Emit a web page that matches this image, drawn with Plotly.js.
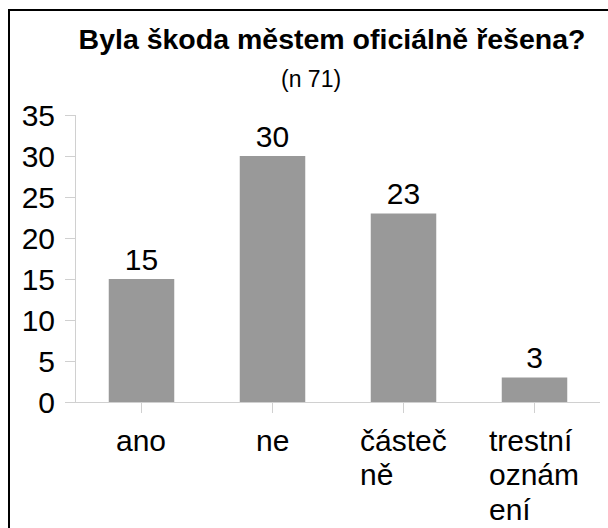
<!DOCTYPE html>
<html>
<head>
<meta charset="utf-8">
<script src="https://cdn.plot.ly/plotly-3.0.1.min.js"></script>
<style>
  html, body { margin: 0; padding: 0; background: #fff; overflow: hidden; }
  #wrap { position: relative; width: 608px; height: 528px; }
  #chart { width: 608px; height: 528px; }
  #frame { position: absolute; left: 8px; top: 9px; width: 700px; height: 700px;
           border-left: 2px solid #000; border-top: 2px solid #000; pointer-events: none; }
</style>
</head>
<body>
<div id="wrap">
  <div id="chart"></div>
  <div id="frame"></div>
</div>
<script>
const titleText = "Byla škoda městem oficiálně řešena?";
const subtitleText = "(n 71)";
const categories = ["ano", "ne", "částečně", "trestní oznámení"];
const tickLabels = ["ano", "ne", "částeč<br>ně", "trestní<br>oznám<br>ení"];
const values = [15, 30, 23, 3];
const yTicks = [0, 5, 10, 15, 20, 25, 30, 35];

const FONT = "Liberation Sans, Arial, sans-serif";
const LABEL_SIZE = 30;
const LINE_STEP = 34.5;

const trace = {
  type: "bar",
  x: categories,
  y: values,
  text: values.map(String),
  textposition: "outside",
  cliponaxis: false,
  textfont: { family: FONT, size: 30, color: "#000" },
  marker: { color: "#999999" },
  hoverinfo: "none"
};

// measure text widths to left-align lines inside a centered block
const ctx = document.createElement("canvas").getContext("2d");
ctx.font = LABEL_SIZE + "px 'Liberation Sans', Arial, sans-serif";

const annotations = [];
categories.forEach((c, i) => {
  const lines = tickLabels[i].split("<br>");
  const blockW = Math.max(...lines.map(l => ctx.measureText(l).width));
  lines.forEach((line, j) => {
    annotations.push({
      x: c, xref: "x", y: 0, yref: "paper",
      yanchor: "middle", xanchor: "left",
      xshift: -blockW / 2 - 2, yshift: -38 - j * LINE_STEP,
      text: line, align: "left", showarrow: false,
      font: { family: FONT, size: LABEL_SIZE, color: "#000" }
    });
  });
});
annotations.push({
  x: (311 - 76) / 524, xref: "paper", y: 1, yref: "paper", xanchor: "center", yanchor: "middle",
  yshift: 36, text: subtitleText, showarrow: false,
  font: { family: FONT, size: 23, color: "#000" }
});

const layout = {
  width: 608, height: 528,
  margin: { l: 76, r: 8, t: 115, b: 126 },
  paper_bgcolor: "#fff", plot_bgcolor: "#fff",
  showlegend: false,
  bargap: 0.5,
  title: {
    text: "<b>" + titleText + "</b>",
    x: 332 / 608, xanchor: "center", xref: "container",
    y: 1 - 39 / 528, yanchor: "middle", yref: "container",
    font: { family: FONT, size: 28.5, color: "#000" }
  },
  xaxis: {
    type: "category",
    showticklabels: false,
    ticks: "outside", ticklen: 10, tickcolor: "#d0d0d0", tickwidth: 1,
    showline: true, linecolor: "#d0d0d0", linewidth: 1,
    showgrid: false, zeroline: false, fixedrange: true
  },
  yaxis: {
    range: [0, 35],
    tickvals: yTicks,
    ticktext: yTicks.map(String),
    ticks: "outside", ticklen: 10, tickcolor: "#d0d0d0", tickwidth: 1,
    showline: true, linecolor: "#d0d0d0", linewidth: 1,
    showgrid: false, zeroline: false, fixedrange: true,
    tickfont: { family: FONT, size: 30, color: "#000" },
    ticklabelstandoff: 4
  },
  annotations: annotations,
  font: { family: FONT, color: "#000" }
};

Plotly.newPlot("chart", [trace], layout, { displayModeBar: false, staticPlot: true });
</script>
</body>
</html>
